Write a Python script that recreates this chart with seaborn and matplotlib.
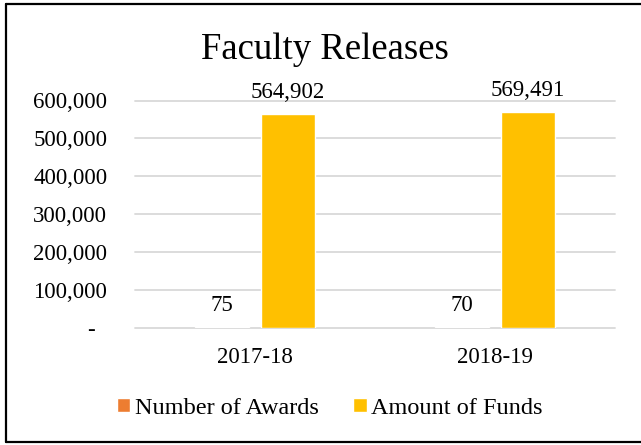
import pandas as pd
import numpy as np
import matplotlib
matplotlib.use("Agg")
import matplotlib.pyplot as plt
from matplotlib.lines import Line2D
from matplotlib.ticker import FuncFormatter
import seaborn as sns

# data
years = ["2017-18", "2018-19"]
series = ["Number of Awards", "Amount of Funds"]
awards = [75, 70]
funds = [564902, 569491]
colors = ["#ED7D31", "#FFC000"]

df = pd.DataFrame({
    "Year": years * 2,
    "Series": [series[0]] * 2 + [series[1]] * 2,
    "Value": awards + funds,
})

sns.set_style("white")
plt.rcParams["font.family"] = ["Liberation Serif", "DejaVu Serif"]
plt.rcParams["text.color"] = "black"
plt.rcParams["xtick.color"] = "black"
plt.rcParams["ytick.color"] = "black"

W, H = 641, 445
fig = plt.figure(figsize=(W / 100, H / 100), dpi=100)
ax = fig.add_axes([135 / W, 1 - 327.5 / H, 480 / W, 227 / H])

sns.barplot(data=df, x="Year", y="Value", hue="Series",
            hue_order=series, palette=colors, order=years,
            width=0.55, gap=0.18, saturation=1, ax=ax)

ax.set_ylim(0, 600000)
ax.set_yticks(np.arange(0, 600001, 100000))
ax.yaxis.set_major_formatter(FuncFormatter(
    lambda v, p: "-  " if v == 0 else f"{int(v):,}"))
ax.grid(axis="y", color="#D9D9D9", linewidth=1.3)
for gl in ax.get_ygridlines():
    gl.set_clip_on(False)
ax.set_axisbelow(True)
for s in ax.spines.values():
    s.set_visible(False)
ax.tick_params(axis="y", length=0, pad=20, labelsize=16.5, labelcolor="black")
ax.tick_params(axis="x", length=0, pad=14, labelsize=16.5, labelcolor="black")
ax.set_xlabel("")
ax.set_ylabel("")

# data labels
for cont in ax.containers:
    ax.bar_label(cont, labels=[f"{v:,.0f}" for v in cont.datavalues],
                 padding=8, fontsize=16.5, color="black")

# legend
handles, labels = ax.get_legend_handles_labels()
ax.legend(handles, labels, loc="center", ncol=2, frameon=False,
          bbox_to_anchor=(330 / W, 1 - 408 / H), bbox_transform=fig.transFigure,
          fontsize=17.5, handlelength=0.55, handleheight=0.5,
          handletextpad=0.2, columnspacing=1.4, borderpad=0,
          labelcolor="black")

# title
fig.text(325 / W, 1 - 59 / H, "Faculty Releases", ha="center",
         va="baseline", fontsize=26.5, color="black")

# chart border (left, top, bottom)
for xs, ys in [([6 / W, 6 / W], [1 - 4 / H, 1 - 442 / H]),
               ([6 / W, 1.01], [1 - 4 / H, 1 - 4 / H]),
               ([6 / W, 1.01], [1 - 442 / H, 1 - 442 / H])]:
    fig.add_artist(Line2D(xs, ys, color="black", linewidth=1.6,
                          transform=fig.transFigure))

fig.savefig("out.png", dpi=100)
